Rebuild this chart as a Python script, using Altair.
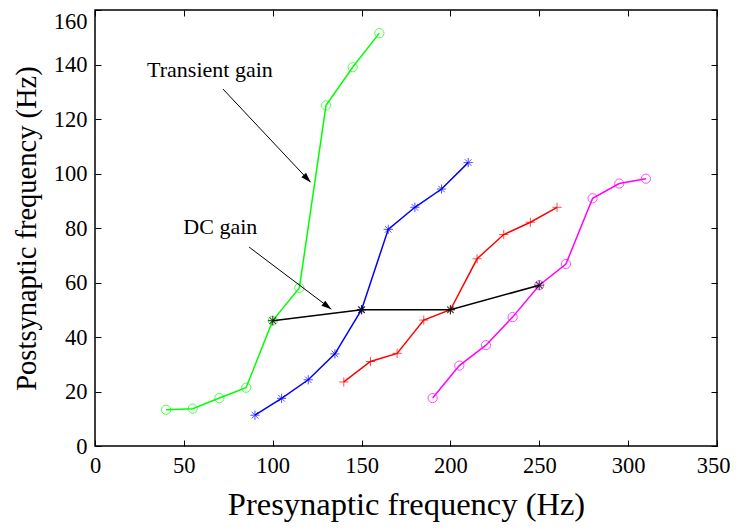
import math
import altair as alt
import pandas as pd

# ---- data ----
green_x = [40, 55, 70, 85, 100, 115, 130, 145, 160]
green_y = [13.3, 13.7, 17.6, 21.4, 46.0, 58.0, 125.0, 139.0, 151.5]
blue_x = [90, 105, 120, 135, 150, 165, 180, 195, 210]
blue_y = [11.3, 17.5, 24.3, 33.8, 50.0, 79.5, 87.6, 94.3, 104.0]
red_x = [140, 155, 170, 185, 200, 215, 230, 245, 260]
red_y = [23.5, 31.0, 34.0, 46.2, 50.0, 68.7, 77.6, 82.1, 87.6]
mag_x = [190, 205, 220, 235, 250, 265, 280, 295, 310]
mag_y = [17.6, 29.5, 37.0, 47.3, 59.0, 66.8, 90.9, 96.3, 98.1]
dc_x = [100, 150, 200, 250]
dc_y = [46.0, 50.0, 50.0, 59.0]

labels = ["Transient gain", "DC gain"]
label_x = [29.3, 49.7]
label_y = [135.4, 77.8]
arrow_x0 = [72.0, 86.7]
arrow_y0 = [131.0, 73.0]
arrow_x1 = [121.3, 133.0]
arrow_y1 = [96.8, 50.2]

x_ticks = [0, 50, 100, 150, 200, 250, 300, 350]
y_ticks = [0, 20, 40, 60, 80, 100, 120, 140, 160]

W, H = 622, 436
XD, YD = [0, 350], [0, 160]
FONT = "Liberation Serif"

series_names = ["g", "b", "r", "m"]
colors = ["#00ff00", "#0000ff", "#ff0000", "#ff00ff"]
ASTER = "M-1,0L1,0M0,-1L0,1M-0.7,-0.7L0.7,0.7M-0.7,0.7L0.7,-0.7"
PLUS = "M-1,0L1,0M0,-1L0,1"
shapes = ["circle", ASTER, PLUS, "circle"]

rows = []
for name, xs_, ys_ in zip(series_names, [green_x, blue_x, red_x, mag_x],
                          [green_y, blue_y, red_y, mag_y]):
    for a, b in zip(xs_, ys_):
        rows.append({"x": a, "y": b, "s": name})
df = pd.DataFrame(rows)
dc = pd.DataFrame({"x": dc_x, "y": dc_y})

sx = W / (XD[1] - XD[0])
sy = H / (YD[1] - YD[0])
angles = []
for a0, b0, a1, b1 in zip(arrow_x0, arrow_y0, arrow_x1, arrow_y1):
    dx = (a1 - a0) * sx
    dy = -(b1 - b0) * sy  # screen down
    angles.append(math.degrees(math.atan2(dx, -dy)) % 360)
ann = pd.DataFrame({"label": labels, "lx": label_x, "ly": label_y,
                    "x0": arrow_x0, "y0": arrow_y0, "x1": arrow_x1,
                    "y1": arrow_y1, "ang": angles})

xs = alt.Scale(domain=XD, nice=False, zero=False)
ys = alt.Scale(domain=YD, nice=False, zero=False)

TL = 6
base_ax = dict(grid=False, domain=False, tickSize=TL, labelFlush=False,
               offset=-TL, tickColor="black", tickWidth=1,
               labelFont=FONT, labelFontSize=22.5, labelColor="black",
               titleFont=FONT, titleFontWeight="normal", titleColor="black")
x_bottom = alt.Axis(orient="bottom", title="Presynaptic frequency (Hz)",
                    values=x_ticks, labelPadding=8, titlePadding=12,
                    titleFontSize=32.5,
                    labelOffset={"condition": {"test": "datum.value >= 350",
                                               "value": -4},
                                 "value": 0},
                    **base_ax)
x_top = alt.Axis(orient="top", labels=False, title=None, values=x_ticks,
                 **base_ax)
y_left = alt.Axis(orient="left", title="Postsynaptic frequency (Hz)",
                  values=y_ticks, labelPadding=8, titlePadding=12,
                  titleFontSize=28.5,
                  labelBaseline={"condition": {"test": "datum.value >= 160",
                                               "value": "top"},
                                 "value": "middle"},
                  **base_ax)
y_right = alt.Axis(orient="right", labels=False, title=None, values=y_ticks,
                   **base_ax)

color = alt.Color("s:N", scale=alt.Scale(domain=series_names, range=colors),
                  legend=None)

lines = alt.Chart(df).mark_line(strokeWidth=1.5).encode(
    x=alt.X("x:Q", scale=xs, axis=x_bottom),
    y=alt.Y("y:Q", scale=ys, axis=y_left),
    color=color, detail="s:N")

frame = alt.Chart(df).mark_point(opacity=0).encode(
    x=alt.X("x:Q", scale=xs, axis=x_top),
    y=alt.Y("y:Q", scale=ys, axis=y_right))

pts = alt.Chart(df).mark_point(filled=False, size=85, strokeWidth=1).encode(
    x=alt.X("x:Q", scale=xs, axis=None),
    y=alt.Y("y:Q", scale=ys, axis=None),
    color=color,
    shape=alt.Shape("s:N", scale=alt.Scale(domain=series_names, range=shapes),
                    legend=None))

dc_line = alt.Chart(dc).mark_line(color="black", strokeWidth=1.5).encode(
    x=alt.X("x:Q", scale=xs, axis=None),
    y=alt.Y("y:Q", scale=ys, axis=None))
dc_pts = alt.Chart(dc).mark_point(shape=ASTER, size=85, filled=False,
                                  color="black", strokeWidth=1.2).encode(
    x=alt.X("x:Q", scale=xs, axis=None),
    y=alt.Y("y:Q", scale=ys, axis=None))

arrows = alt.Chart(ann).mark_rule(color="black", strokeWidth=1).encode(
    x=alt.X("x0:Q", scale=xs, axis=None), x2="x1:Q",
    y=alt.Y("y0:Q", scale=ys, axis=None), y2="y1:Q")
heads = alt.Chart(ann).mark_point(shape="M0,0L-0.32,1L0.32,1Z", size=400,
                                  filled=True, color="black",
                                  opacity=1).encode(
    x=alt.X("x1:Q", scale=xs, axis=None),
    y=alt.Y("y1:Q", scale=ys, axis=None),
    angle=alt.Angle("ang:Q", scale=None))
texts = alt.Chart(ann).mark_text(font=FONT, fontSize=22, align="left",
                                 baseline="alphabetic", color="black").encode(
    x=alt.X("lx:Q", scale=xs, axis=None),
    y=alt.Y("ly:Q", scale=ys, axis=None),
    text="label:N")

chart = alt.layer(lines, frame, pts, dc_line, dc_pts, arrows, heads, texts
                  ).resolve_axis(x="independent", y="independent").properties(
    width=W, height=H,
    autosize=alt.AutoSizeParams(type="none"),
    padding={"left": 87, "top": 2, "right": 13, "bottom": 77},
    background="white",
).configure_view(stroke="black", strokeWidth=1.5)

chart.save("out.html", embed_options={"renderer": "svg", "actions": False})
